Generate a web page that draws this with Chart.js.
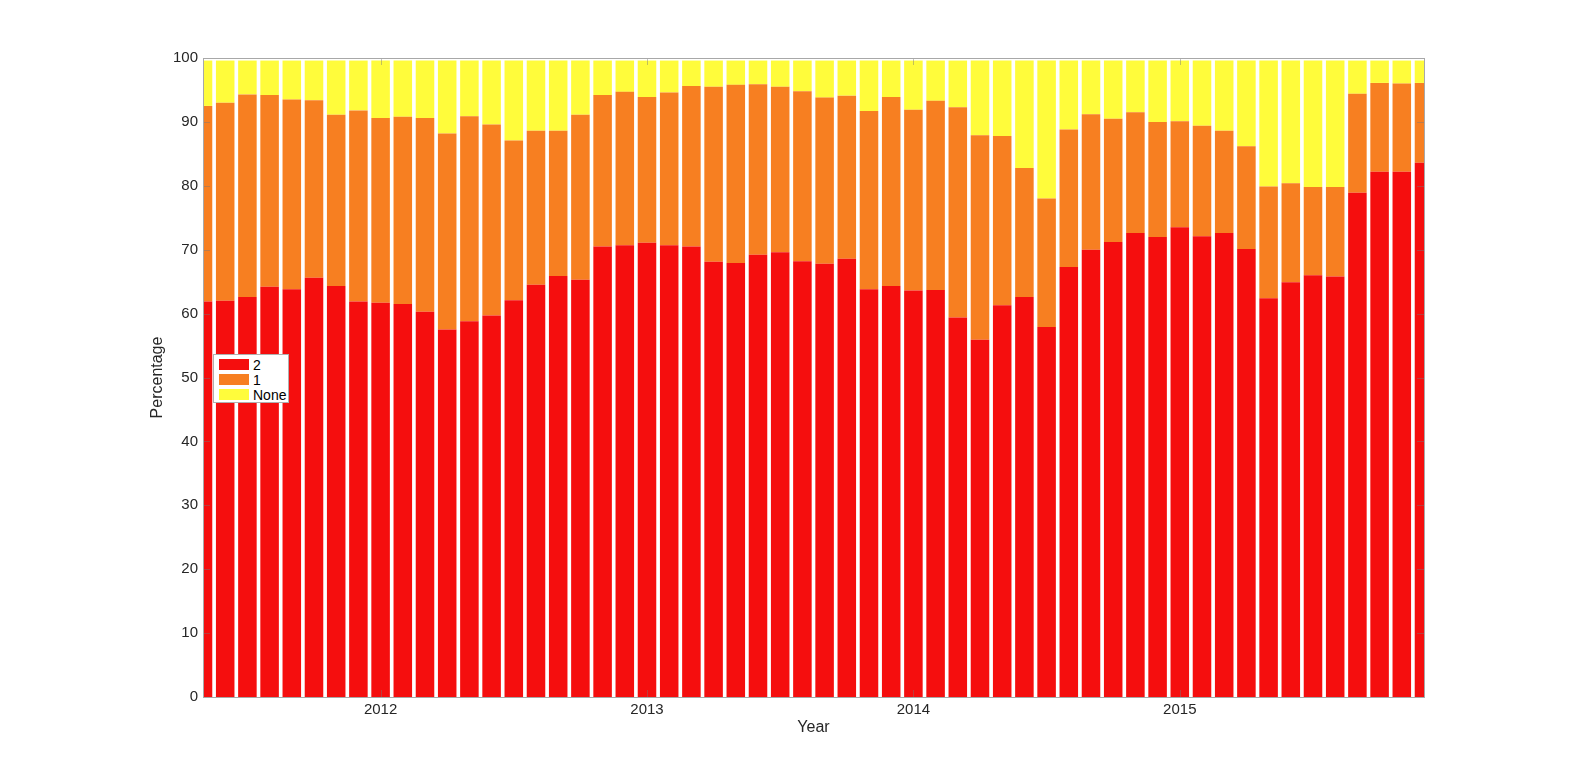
<!DOCTYPE html>
<html>
<head>
<meta charset="utf-8">
<title>Percentage by month</title>
<script src="https://cdn.jsdelivr.net/npm/chart.js@4/dist/chart.umd.min.js"></script>
<style>
  body { margin: 0; background: #fff; }
  #wrap { position: relative; width: 1573px; height: 784px; }
  #legend {
    position: absolute; left: 213px; top: 354px; width: 76px; height: 49px;
    background: #fff; border: 1px solid #b0b0b0; box-sizing: border-box;
    font: 14px "Liberation Sans", Arial, sans-serif; color: #000;
    padding: 2px 0 0 5px;
  }
  .row { display: flex; align-items: center; height: 15px; }
  .sw { width: 30px; height: 11px; margin-right: 4px; }
</style>
</head>
<body>
<div id="wrap">
  <canvas id="chart" width="1573" height="784"></canvas>
  <div id="legend"></div>
</div>
<script>
const months = [
    '2011-05', '2011-06', '2011-07', '2011-08', '2011-09', '2011-10', '2011-11', '2011-12',
    '2012-01', '2012-02', '2012-03', '2012-04', '2012-05', '2012-06', '2012-07', '2012-08', '2012-09', '2012-10', '2012-11', '2012-12',
    '2013-01', '2013-02', '2013-03', '2013-04', '2013-05', '2013-06', '2013-07', '2013-08', '2013-09', '2013-10', '2013-11', '2013-12',
    '2014-01', '2014-02', '2014-03', '2014-04', '2014-05', '2014-06', '2014-07', '2014-08', '2014-09', '2014-10', '2014-11', '2014-12',
    '2015-01', '2015-02', '2015-03', '2015-04', '2015-05', '2015-06', '2015-07', '2015-08', '2015-09', '2015-10', '2015-11', '2015-12'
];
const yearTicks = ['2012', '2013', '2014', '2015'];

const two = [
    61.9, 62.0, 62.6, 64.2, 63.8, 65.6, 64.3, 61.9,
    61.7, 61.5, 60.3, 57.5, 58.8, 59.7, 62.1, 64.5, 65.9, 65.3, 70.5, 70.7,
    71.1, 70.7, 70.5, 68.1, 67.9, 69.2, 69.6, 68.2, 67.8, 68.6, 63.8, 64.3,
    63.6, 63.7, 59.4, 55.9, 61.3, 62.6, 57.9, 67.3, 70.0, 71.2, 72.6, 72.0,
    73.5, 72.1, 72.6, 70.1, 62.4, 64.9, 66.0, 65.8, 78.9, 82.2, 82.2, 83.6
];
const one = [
    30.6, 31.0, 31.7, 30.0, 29.7, 27.8, 26.8, 29.9,
    28.9, 29.3, 30.3, 30.7, 32.1, 29.9, 25.0, 24.1, 22.7, 25.8, 23.7, 24.0,
    22.8, 23.9, 25.1, 27.4, 27.9, 26.7, 25.9, 26.6, 26.0, 25.5, 27.9, 29.6,
    28.3, 29.6, 32.9, 32.0, 26.5, 20.2, 20.1, 21.5, 21.2, 19.3, 18.9, 18.0,
    16.6, 17.3, 16.0, 16.1, 17.5, 15.5, 13.8, 14.0, 15.5, 13.9, 13.8, 12.5
];
const none = [
    7.1, 6.6, 5.3, 5.4, 6.1, 6.2, 8.5, 7.8,
    9.0, 8.8, 9.0, 11.4, 8.7, 10.0, 12.5, 11.0, 11.0, 8.5, 5.4, 4.9,
    5.7, 5.0, 4.0, 4.1, 3.8, 3.7, 4.1, 4.8, 5.8, 5.5, 7.9, 5.7,
    7.7, 6.3, 7.3, 11.7, 11.8, 16.8, 21.6, 10.8, 8.4, 9.1, 8.1, 9.6,
    9.5, 10.2, 11.0, 13.4, 19.7, 19.2, 19.8, 19.8, 5.2, 3.5, 3.6, 3.5
];

const seriesNames = ['2', '1', 'None'];
const seriesColors = ['#f50e0e', '#f77f21', '#fffc3b'];
const font = "'Liberation Sans', Arial, sans-serif";

// axes box and inward tick marks, matlab style
const boxPlugin = {
    id: 'box',
    afterDatasetsDraw(chart) {
        const { ctx, chartArea: a, scales } = chart;
        ctx.save();
        ctx.strokeStyle = 'rgba(120,120,120,0.45)';
        ctx.lineWidth = 1;
        ctx.beginPath();
        scales.y.ticks.forEach(t => {
            const y = Math.round(scales.y.getPixelForValue(t.value)) + 0.5;
            ctx.moveTo(a.left, y); ctx.lineTo(a.left + 7, y);
            ctx.moveTo(a.right, y); ctx.lineTo(a.right - 7, y);
        });
        months.forEach((m, i) => {
            if (!m.endsWith('-01')) return;
            const x = Math.round(scales.x.getPixelForValue(i)) + 0.5;
            ctx.moveTo(x, a.top); ctx.lineTo(x, a.top + 7);
            ctx.moveTo(x, a.bottom); ctx.lineTo(x, a.bottom - 7);
        });
        ctx.stroke();
        ctx.strokeStyle = '#a8a8a8';
        ctx.strokeRect(Math.round(a.left) + 0.5, Math.round(a.top) + 0.5,
            Math.round(a.right - a.left), Math.round(a.bottom - a.top));
        ctx.restore();
    }
};

const datasets = [two, one, none].map((d, i) => ({
    label: seriesNames[i],
    data: d,
    backgroundColor: seriesColors[i],
    borderWidth: 0,
    barPercentage: 0.835,
    categoryPercentage: 1,
    clip: 0
}));

new Chart(document.getElementById('chart'), {
    type: 'bar',
    data: { labels: months, datasets },
    plugins: [boxPlugin],
    options: {
        responsive: false,
        animation: false,
        layout: { padding: { left: 144, right: 149, top: 58, bottom: 43 } },
        plugins: { legend: { display: false }, tooltip: { enabled: false } },
        scales: {
            x: {
                stacked: true,
                offset: false,
                grid: { display: false, drawTicks: false },
                border: { display: false },
                ticks: {
                    autoSkip: false,
                    maxRotation: 0,
                    padding: 4,
                    color: '#262626',
                    font: { family: font, size: 15 },
                    callback: (v, i) => {
                        const m = months[i];
                        return m.endsWith('-01') && yearTicks.includes(m.slice(0, 4)) ? m.slice(0, 4) : '';
                    }
                },
                title: { display: true, text: 'Year', color: '#262626', font: { family: font, size: 16 }, padding: 4 },
                afterFit: s => { s.height = 44; }
            },
            y: {
                stacked: true,
                min: 0,
                max: 100,
                grid: { display: false, drawTicks: false },
                border: { display: false },
                ticks: { stepSize: 10, padding: 5, color: '#262626', font: { family: font, size: 15 } },
                title: { display: true, text: 'Percentage', color: '#262626', font: { family: font, size: 16 }, padding: 4 },
                afterFit: s => { s.width = 59; }
            }
        }
    }
});

const legend = document.getElementById('legend');
seriesNames.forEach((n, i) => {
    const row = document.createElement('div');
    row.className = 'row';
    row.innerHTML = '<span class="sw" style="background:' + seriesColors[i] + '"></span>' + n;
    legend.appendChild(row);
});
</script>
</body>
</html>
